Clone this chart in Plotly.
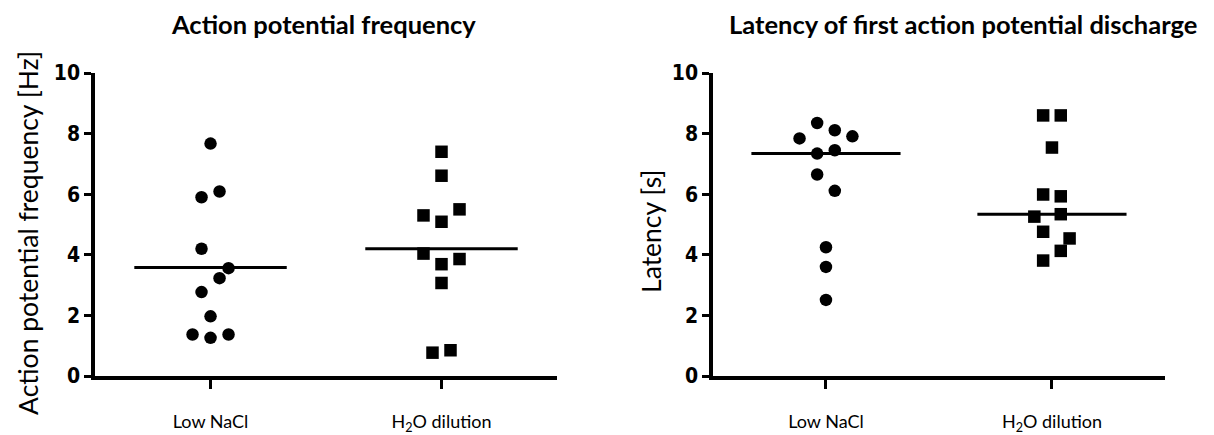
import numpy as np
import plotly.graph_objects as go

# Category labels shared by both panels
categories = ["Low NaCl", "H<sub>2</sub>O dilution"]
y_ticks = [0, 2, 4, 6, 8, 10]

# Action potential frequency [Hz]
freq_low_nacl = [7.67, 5.90, 6.09, 4.20, 3.56, 3.23, 2.77, 1.97, 1.37, 1.26, 1.37]
freq_h2o = [7.40, 6.61, 5.30, 5.09, 5.50, 4.04, 3.69, 3.86, 3.07, 0.77, 0.85]

# Latency of first action potential discharge [s]
lat_low_nacl = [8.35, 7.84, 8.11, 7.91, 7.34, 7.45, 6.65, 6.11, 4.25, 3.60, 2.51]
lat_h2o = [8.60, 8.60, 7.54, 5.99, 5.93, 5.26, 5.34, 4.76, 4.54, 4.13, 3.81]

# Horizontal scatter slots (beeswarm-style spread of overlapping points)
freq_low_nacl_slot = [0, -1, 1, -1, 2, 1, -1, 0, -2, 0, 2]
freq_h2o_slot = [0, 0, -2, 0, 2, -2, 0, 2, 0, -1, 1]
lat_low_nacl_slot = [-1, -3, 1, 3, -1, 1, -1, 1, 0, 0, 0]
lat_h2o_slot = [-1, 1, 0, -1, 1, -2, 1, -1, 2, 1, -1]

SLOT_W = 0.039
LINE_HALF = 0.33
LABEL_FONT = "Lato, Carlito, 'Open Sans', sans-serif"
TICK_FONT = "'Liberation Sans Narrow', 'DejaVu Sans Condensed', 'Arial Narrow', sans-serif"

W, H = 1214, 435
M_T, M_B = 73, 57
PLOT_H = H - M_T - M_B

fig = go.Figure()


def add_group(panel, cat_idx, values, slots, symbol, center):
    xa = "x" if panel == 1 else "x2"
    ya = "y" if panel == 1 else "y2"
    xs = [cat_idx + s * SLOT_W for s in slots]
    fig.add_trace(go.Scatter(
        x=xs, y=values, mode="markers", xaxis=xa, yaxis=ya,
        marker=dict(symbol=symbol, size=12.5, color="black", line=dict(width=0)),
        showlegend=False, hoverinfo="y"))
    fig.add_trace(go.Scatter(
        x=[cat_idx - LINE_HALF, cat_idx + LINE_HALF], y=[center, center],
        mode="lines", xaxis=xa, yaxis=ya,
        line=dict(color="black", width=3), showlegend=False, hoverinfo="skip"))


# Left panel: mean line; right panel: median line
add_group(1, 0, freq_low_nacl, freq_low_nacl_slot, "circle", float(np.mean(freq_low_nacl)))
add_group(1, 1, freq_h2o, freq_h2o_slot, "square", float(np.mean(freq_h2o)))
add_group(2, 0, lat_low_nacl, lat_low_nacl_slot, "circle", float(np.median(lat_low_nacl)))
add_group(2, 1, lat_h2o, lat_h2o_slot, "square", float(np.median(lat_h2o)))

xaxis_common = dict(
    range=[-0.5, 1.5], tickvals=[0, 1], ticktext=categories,
    showline=True, linecolor="black", linewidth=3.5,
    ticks="outside", ticklen=9, tickwidth=3, tickcolor="black",
    ticklabelstandoff=18,
    tickfont=dict(family=LABEL_FONT, size=18, color="black"),
    showgrid=False, zeroline=False, fixedrange=True,
)
yaxis_common = dict(
    range=[0, 10], tickvals=y_ticks,
    showline=True, linecolor="black", linewidth=3.5,
    ticks="outside", ticklen=7, tickwidth=3, tickcolor="black",
    tickfont=dict(family=TICK_FONT, size=21, color="black", weight="bold"),
    showgrid=False, zeroline=False, fixedrange=True,
)


def px_ann(text, px, py, size, angle=0):
    # place a text by its pixel centre on the page
    return dict(text=text, x=px / W, y=(H - py - M_B) / PLOT_H,
                xref="paper", yref="paper", xanchor="center", yanchor="middle",
                showarrow=False, textangle=angle,
                font=dict(family=LABEL_FONT, size=size, color="black"))


fig.update_layout(
    width=W, height=H,
    margin=dict(l=0, r=0, t=M_T, b=M_B),
    paper_bgcolor="white", plot_bgcolor="white",
    xaxis=dict(domain=[0.0783, 0.4588], anchor="y", **xaxis_common),
    yaxis=dict(domain=[0, 1], anchor="x", **yaxis_common),
    xaxis2=dict(domain=[0.5873, 0.9596], anchor="y2", **xaxis_common),
    yaxis2=dict(domain=[0, 1], anchor="x2", **yaxis_common),
    annotations=[
        px_ann("<b>Action potential frequency</b>", 323, 24, 25.5),
        px_ann("<b>Latency of first action potential discharge</b>", 963, 24, 25.5),
        px_ann("Action potential frequency [Hz]", 28, 234, 26.5, -90),
        px_ann("Latency [s]", 651, 233, 26.5, -90),
    ],
)

fig.write_html("out.html")
